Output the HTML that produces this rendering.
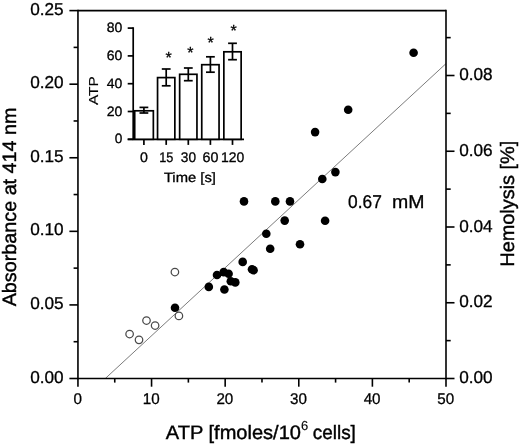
<!DOCTYPE html>
<html><head><meta charset="utf-8"><title>chart</title>
<style>
html,body{margin:0;padding:0;background:#fff;}
body{width:520px;height:445px;overflow:hidden;}
svg{display:block;}
text{font-family:'Liberation Sans', sans-serif;fill:#000;stroke:#000;stroke-width:0.3px;text-rendering:geometricPrecision;}
text.s{stroke-width:0.15px;}
text.b{stroke-width:0.4px;}
svg{will-change:transform;}
</style></head><body>
<svg width="520" height="445" viewBox="0 0 520 445">
<rect width="520" height="445" fill="#fff"/>
<line x1="105.30" y1="378.50" x2="446.00" y2="63.60" stroke="#7c7c7c" stroke-width="1.0" stroke-linecap="butt"/>
<line x1="77.95" y1="9.80" x2="77.95" y2="379.30" stroke="#000" stroke-width="1.6" stroke-linecap="butt"/>
<line x1="446.00" y1="9.80" x2="446.00" y2="379.30" stroke="#000" stroke-width="1.6" stroke-linecap="butt"/>
<line x1="77.95" y1="10.60" x2="446.00" y2="10.60" stroke="#000" stroke-width="1.6" stroke-linecap="butt"/>
<line x1="77.95" y1="378.50" x2="446.00" y2="378.50" stroke="#000" stroke-width="1.6" stroke-linecap="butt"/>
<line x1="69.40" y1="378.50" x2="77.95" y2="378.50" stroke="#000" stroke-width="1.6" stroke-linecap="butt"/>
<text x="63.60" y="382.50" font-size="17.2" text-anchor="end">0.00</text>
<line x1="73.60" y1="341.71" x2="77.95" y2="341.71" stroke="#000" stroke-width="1.6" stroke-linecap="butt"/>
<line x1="69.40" y1="304.92" x2="77.95" y2="304.92" stroke="#000" stroke-width="1.6" stroke-linecap="butt"/>
<text x="63.60" y="308.92" font-size="17.2" text-anchor="end">0.05</text>
<line x1="73.60" y1="268.13" x2="77.95" y2="268.13" stroke="#000" stroke-width="1.6" stroke-linecap="butt"/>
<line x1="69.40" y1="231.34" x2="77.95" y2="231.34" stroke="#000" stroke-width="1.6" stroke-linecap="butt"/>
<text x="63.60" y="235.34" font-size="17.2" text-anchor="end">0.10</text>
<line x1="73.60" y1="194.55" x2="77.95" y2="194.55" stroke="#000" stroke-width="1.6" stroke-linecap="butt"/>
<line x1="69.40" y1="157.76" x2="77.95" y2="157.76" stroke="#000" stroke-width="1.6" stroke-linecap="butt"/>
<text x="63.60" y="161.76" font-size="17.2" text-anchor="end">0.15</text>
<line x1="73.60" y1="120.97" x2="77.95" y2="120.97" stroke="#000" stroke-width="1.6" stroke-linecap="butt"/>
<line x1="69.40" y1="84.18" x2="77.95" y2="84.18" stroke="#000" stroke-width="1.6" stroke-linecap="butt"/>
<text x="63.60" y="88.18" font-size="17.2" text-anchor="end">0.20</text>
<line x1="73.60" y1="47.39" x2="77.95" y2="47.39" stroke="#000" stroke-width="1.6" stroke-linecap="butt"/>
<line x1="69.40" y1="10.60" x2="77.95" y2="10.60" stroke="#000" stroke-width="1.6" stroke-linecap="butt"/>
<text x="63.60" y="14.60" font-size="17.2" text-anchor="end">0.25</text>
<line x1="446.00" y1="378.50" x2="454.50" y2="378.50" stroke="#000" stroke-width="1.6" stroke-linecap="butt"/>
<text x="459.20" y="383.10" font-size="17.2">0.00</text>
<line x1="446.00" y1="340.62" x2="450.70" y2="340.62" stroke="#000" stroke-width="1.6" stroke-linecap="butt"/>
<line x1="446.00" y1="302.75" x2="454.50" y2="302.75" stroke="#000" stroke-width="1.6" stroke-linecap="butt"/>
<text x="459.20" y="307.35" font-size="17.2">0.02</text>
<line x1="446.00" y1="264.88" x2="450.70" y2="264.88" stroke="#000" stroke-width="1.6" stroke-linecap="butt"/>
<line x1="446.00" y1="227.00" x2="454.50" y2="227.00" stroke="#000" stroke-width="1.6" stroke-linecap="butt"/>
<text x="459.20" y="231.60" font-size="17.2">0.04</text>
<line x1="446.00" y1="189.12" x2="450.70" y2="189.12" stroke="#000" stroke-width="1.6" stroke-linecap="butt"/>
<line x1="446.00" y1="151.25" x2="454.50" y2="151.25" stroke="#000" stroke-width="1.6" stroke-linecap="butt"/>
<text x="459.20" y="155.85" font-size="17.2">0.06</text>
<line x1="446.00" y1="113.38" x2="450.70" y2="113.38" stroke="#000" stroke-width="1.6" stroke-linecap="butt"/>
<line x1="446.00" y1="75.50" x2="454.50" y2="75.50" stroke="#000" stroke-width="1.6" stroke-linecap="butt"/>
<text x="459.20" y="80.10" font-size="17.2">0.08</text>
<line x1="446.00" y1="37.62" x2="450.70" y2="37.62" stroke="#000" stroke-width="1.6" stroke-linecap="butt"/>
<line x1="77.95" y1="378.50" x2="77.95" y2="386.70" stroke="#000" stroke-width="1.6" stroke-linecap="butt"/>
<text x="77.65" y="403.60" font-size="15.5" text-anchor="middle" textLength="8.45" lengthAdjust="spacingAndGlyphs">0</text>
<line x1="114.75" y1="378.50" x2="114.75" y2="382.60" stroke="#000" stroke-width="1.6" stroke-linecap="butt"/>
<line x1="151.56" y1="378.50" x2="151.56" y2="386.70" stroke="#000" stroke-width="1.6" stroke-linecap="butt"/>
<text x="151.26" y="403.60" font-size="15.5" text-anchor="middle" textLength="16.90" lengthAdjust="spacingAndGlyphs">10</text>
<line x1="188.37" y1="378.50" x2="188.37" y2="382.60" stroke="#000" stroke-width="1.6" stroke-linecap="butt"/>
<line x1="225.17" y1="378.50" x2="225.17" y2="386.70" stroke="#000" stroke-width="1.6" stroke-linecap="butt"/>
<text x="224.87" y="403.60" font-size="15.5" text-anchor="middle" textLength="16.90" lengthAdjust="spacingAndGlyphs">20</text>
<line x1="261.98" y1="378.50" x2="261.98" y2="382.60" stroke="#000" stroke-width="1.6" stroke-linecap="butt"/>
<line x1="298.78" y1="378.50" x2="298.78" y2="386.70" stroke="#000" stroke-width="1.6" stroke-linecap="butt"/>
<text x="298.48" y="403.60" font-size="15.5" text-anchor="middle" textLength="16.90" lengthAdjust="spacingAndGlyphs">30</text>
<line x1="335.58" y1="378.50" x2="335.58" y2="382.60" stroke="#000" stroke-width="1.6" stroke-linecap="butt"/>
<line x1="372.39" y1="378.50" x2="372.39" y2="386.70" stroke="#000" stroke-width="1.6" stroke-linecap="butt"/>
<text x="372.09" y="403.60" font-size="15.5" text-anchor="middle" textLength="16.90" lengthAdjust="spacingAndGlyphs">40</text>
<line x1="409.19" y1="378.50" x2="409.19" y2="382.60" stroke="#000" stroke-width="1.6" stroke-linecap="butt"/>
<line x1="446.00" y1="378.50" x2="446.00" y2="386.70" stroke="#000" stroke-width="1.6" stroke-linecap="butt"/>
<text x="445.70" y="403.60" font-size="15.5" text-anchor="middle" textLength="16.90" lengthAdjust="spacingAndGlyphs">50</text>
<circle cx="129.6" cy="334.0" r="3.75" fill="#fff" stroke="#4a4a4a" stroke-width="1.25"/>
<circle cx="139.0" cy="339.8" r="3.75" fill="#fff" stroke="#4a4a4a" stroke-width="1.25"/>
<circle cx="146.5" cy="320.5" r="3.75" fill="#fff" stroke="#4a4a4a" stroke-width="1.25"/>
<circle cx="155.1" cy="325.5" r="3.75" fill="#fff" stroke="#4a4a4a" stroke-width="1.25"/>
<circle cx="174.9" cy="272" r="3.75" fill="#fff" stroke="#4a4a4a" stroke-width="1.25"/>
<circle cx="178.9" cy="315.9" r="3.75" fill="#fff" stroke="#4a4a4a" stroke-width="1.25"/>
<circle cx="175.0" cy="307.8" r="4.3" fill="#000"/>
<circle cx="208.8" cy="286.9" r="4.3" fill="#000"/>
<circle cx="217.0" cy="275.0" r="4.3" fill="#000"/>
<circle cx="223.7" cy="272.1" r="4.3" fill="#000"/>
<circle cx="228.6" cy="273.8" r="4.3" fill="#000"/>
<circle cx="224.4" cy="289.5" r="4.3" fill="#000"/>
<circle cx="230.8" cy="281.3" r="4.3" fill="#000"/>
<circle cx="235.3" cy="282.4" r="4.3" fill="#000"/>
<circle cx="242.7" cy="261.9" r="4.3" fill="#000"/>
<circle cx="252.0" cy="269.2" r="4.3" fill="#000"/>
<circle cx="253.6" cy="270.3" r="4.3" fill="#000"/>
<circle cx="244" cy="201.4" r="4.3" fill="#000"/>
<circle cx="275.3" cy="201.4" r="4.3" fill="#000"/>
<circle cx="290" cy="201.4" r="4.3" fill="#000"/>
<circle cx="284.7" cy="220.6" r="4.3" fill="#000"/>
<circle cx="266.3" cy="233.7" r="4.3" fill="#000"/>
<circle cx="270.2" cy="248.7" r="4.3" fill="#000"/>
<circle cx="300" cy="244.3" r="4.3" fill="#000"/>
<circle cx="335.4" cy="172.1" r="4.3" fill="#000"/>
<circle cx="322.3" cy="179" r="4.3" fill="#000"/>
<circle cx="325.1" cy="220.7" r="4.3" fill="#000"/>
<circle cx="315.1" cy="132.1" r="4.3" fill="#000"/>
<circle cx="348.2" cy="109.8" r="4.3" fill="#000"/>
<circle cx="413.6" cy="52.7" r="4.3" fill="#000"/>
<text x="348.10" y="207.80" font-size="18.5" textLength="33.80" lengthAdjust="spacingAndGlyphs">0.67</text>
<text x="391.90" y="207.80" font-size="18.5" textLength="32.50" lengthAdjust="spacingAndGlyphs">mM</text>
<text x="16.30" y="306.30" font-size="19.4" textLength="198.80" lengthAdjust="spacingAndGlyphs" transform="rotate(-90 16.30 306.30)" class="b">Absorbance at 414 nm</text>
<text x="513.80" y="266.70" font-size="19.4" textLength="126.00" lengthAdjust="spacingAndGlyphs" transform="rotate(-90 513.80 266.70)" class="b">Hemolysis [%]</text>
<text x="165.80" y="439.20" font-size="19.4" textLength="135.20" lengthAdjust="spacingAndGlyphs" class="b">ATP [fmoles/10</text>
<text x="301.00" y="430.30" font-size="13" class="s">6</text>
<text x="312.70" y="439.20" font-size="19.4" textLength="43.20" lengthAdjust="spacingAndGlyphs" class="b">cells]</text>
<line x1="133.20" y1="27.25" x2="133.20" y2="140.15" stroke="#000" stroke-width="1.7" stroke-linecap="butt"/>
<line x1="127.70" y1="139.30" x2="244.00" y2="139.30" stroke="#000" stroke-width="1.7" stroke-linecap="butt"/>
<line x1="127.70" y1="139.30" x2="133.20" y2="139.30" stroke="#000" stroke-width="1.7" stroke-linecap="butt"/>
<text x="122.40" y="143.30" font-size="13.6" text-anchor="end" textLength="7.60" lengthAdjust="spacingAndGlyphs">0</text>
<line x1="127.70" y1="111.50" x2="133.20" y2="111.50" stroke="#000" stroke-width="1.7" stroke-linecap="butt"/>
<text x="122.40" y="115.50" font-size="13.6" text-anchor="end" textLength="15.60" lengthAdjust="spacingAndGlyphs">20</text>
<line x1="127.70" y1="83.70" x2="133.20" y2="83.70" stroke="#000" stroke-width="1.7" stroke-linecap="butt"/>
<text x="122.40" y="87.70" font-size="13.6" text-anchor="end" textLength="15.60" lengthAdjust="spacingAndGlyphs">40</text>
<line x1="127.70" y1="55.90" x2="133.20" y2="55.90" stroke="#000" stroke-width="1.7" stroke-linecap="butt"/>
<text x="122.40" y="59.90" font-size="13.6" text-anchor="end" textLength="15.60" lengthAdjust="spacingAndGlyphs">60</text>
<line x1="127.70" y1="28.10" x2="133.20" y2="28.10" stroke="#000" stroke-width="1.7" stroke-linecap="butt"/>
<text x="122.40" y="32.10" font-size="13.6" text-anchor="end" textLength="15.60" lengthAdjust="spacingAndGlyphs">80</text>
<rect x="134.70" y="110.80" width="18.65" height="28.50" fill="#fff" stroke="#000" stroke-width="1.7"/>
<line x1="143.90" y1="107.40" x2="143.90" y2="113.00" stroke="#000" stroke-width="1.7" stroke-linecap="butt"/>
<line x1="139.50" y1="107.40" x2="148.30" y2="107.40" stroke="#000" stroke-width="1.7" stroke-linecap="butt"/>
<line x1="139.50" y1="113.00" x2="148.30" y2="113.00" stroke="#000" stroke-width="1.7" stroke-linecap="butt"/>
<line x1="143.90" y1="139.30" x2="143.90" y2="144.90" stroke="#000" stroke-width="1.7" stroke-linecap="butt"/>
<text x="144.00" y="162.20" font-size="14" text-anchor="middle" textLength="7.90" lengthAdjust="spacingAndGlyphs">0</text>
<rect x="157.55" y="77.60" width="17.30" height="61.70" fill="#fff" stroke="#000" stroke-width="1.7"/>
<line x1="166.20" y1="69.00" x2="166.20" y2="85.80" stroke="#000" stroke-width="1.7" stroke-linecap="butt"/>
<line x1="161.80" y1="69.00" x2="170.60" y2="69.00" stroke="#000" stroke-width="1.7" stroke-linecap="butt"/>
<line x1="161.80" y1="85.80" x2="170.60" y2="85.80" stroke="#000" stroke-width="1.7" stroke-linecap="butt"/>
<line x1="166.20" y1="139.30" x2="166.20" y2="144.90" stroke="#000" stroke-width="1.7" stroke-linecap="butt"/>
<text x="166.30" y="162.20" font-size="14" text-anchor="middle" textLength="14.14" lengthAdjust="spacingAndGlyphs">15</text>
<rect x="179.65" y="74.30" width="17.30" height="65.00" fill="#fff" stroke="#000" stroke-width="1.7"/>
<line x1="188.30" y1="68.00" x2="188.30" y2="80.70" stroke="#000" stroke-width="1.7" stroke-linecap="butt"/>
<line x1="183.90" y1="68.00" x2="192.70" y2="68.00" stroke="#000" stroke-width="1.7" stroke-linecap="butt"/>
<line x1="183.90" y1="80.70" x2="192.70" y2="80.70" stroke="#000" stroke-width="1.7" stroke-linecap="butt"/>
<line x1="188.30" y1="139.30" x2="188.30" y2="144.90" stroke="#000" stroke-width="1.7" stroke-linecap="butt"/>
<text x="188.40" y="162.20" font-size="14" text-anchor="middle" textLength="15.18" lengthAdjust="spacingAndGlyphs">30</text>
<rect x="201.75" y="64.70" width="17.30" height="74.60" fill="#fff" stroke="#000" stroke-width="1.7"/>
<line x1="210.40" y1="56.80" x2="210.40" y2="72.20" stroke="#000" stroke-width="1.7" stroke-linecap="butt"/>
<line x1="206.00" y1="56.80" x2="214.80" y2="56.80" stroke="#000" stroke-width="1.7" stroke-linecap="butt"/>
<line x1="206.00" y1="72.20" x2="214.80" y2="72.20" stroke="#000" stroke-width="1.7" stroke-linecap="butt"/>
<line x1="210.40" y1="139.30" x2="210.40" y2="144.90" stroke="#000" stroke-width="1.7" stroke-linecap="butt"/>
<text x="210.50" y="162.20" font-size="14" text-anchor="middle" textLength="15.91" lengthAdjust="spacingAndGlyphs">60</text>
<rect x="223.85" y="51.80" width="17.30" height="87.50" fill="#fff" stroke="#000" stroke-width="1.7"/>
<line x1="232.50" y1="43.30" x2="232.50" y2="59.70" stroke="#000" stroke-width="1.7" stroke-linecap="butt"/>
<line x1="228.10" y1="43.30" x2="236.90" y2="43.30" stroke="#000" stroke-width="1.7" stroke-linecap="butt"/>
<line x1="228.10" y1="59.70" x2="236.90" y2="59.70" stroke="#000" stroke-width="1.7" stroke-linecap="butt"/>
<line x1="232.50" y1="139.30" x2="232.50" y2="144.90" stroke="#000" stroke-width="1.7" stroke-linecap="butt"/>
<text x="232.60" y="162.20" font-size="14" text-anchor="middle" textLength="23.30" lengthAdjust="spacingAndGlyphs">120</text>
<text x="168.70" y="63.00" font-size="16" text-anchor="middle">*</text>
<text x="190.30" y="58.20" font-size="16" text-anchor="middle">*</text>
<text x="210.60" y="48.10" font-size="16" text-anchor="middle">*</text>
<text x="233.70" y="35.50" font-size="16" text-anchor="middle">*</text>
<text x="163.90" y="182.20" font-size="13.5" textLength="52.00" lengthAdjust="spacingAndGlyphs">Time [s]</text>
<text x="97.60" y="105.10" font-size="13" textLength="29.00" lengthAdjust="spacingAndGlyphs" transform="rotate(-90 97.60 105.10)" class="s">ATP</text>
</svg>
</body></html>
